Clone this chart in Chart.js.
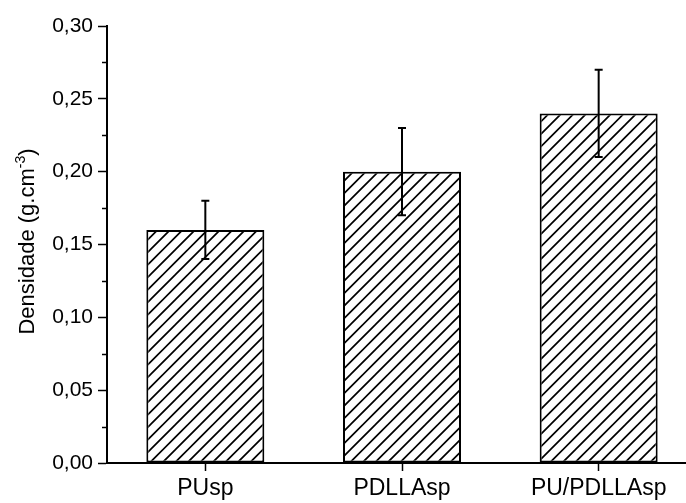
<!DOCTYPE html>
<html>
<head>
<meta charset="utf-8">
<script src="https://cdn.jsdelivr.net/npm/chart.js@4"></script>
<style>
  html, body { margin: 0; padding: 0; background: #fff; }
  #wrap { width: 686px; height: 503px; overflow: hidden; position: relative; }
  #wrap canvas { display: block; }
</style>
</head>
<body>
<div id="wrap"><canvas id="c" width="700" height="503"></canvas></div>
<script>
// Sample densities (g.cm^-3) with standard deviations
const categories = ['PUsp', 'PDLLAsp', 'PU/PDLLAsp'];
const densities = [0.16, 0.20, 0.24];
const deviations = [0.02, 0.03, 0.03];
const yMin = 0;
const yMax = 0.30;
const yStep = 0.05;

const FONT = '"Liberation Sans", Arial, sans-serif';

// Diagonal hatch fill for the bars
function makeHatch() {
  const s = 25;
  const c = document.createElement('canvas');
  c.width = s; c.height = s;
  const g = c.getContext('2d');
  g.fillStyle = '#fff';
  g.fillRect(0, 0, s, s);
  g.strokeStyle = '#000';
  g.lineWidth = 1.7;
  g.lineCap = 'square';
  for (let k = -1; k <= 5; k++) {
    const cc = k * 12.5;
    g.beginPath();
    g.moveTo(cc - s, s);
    g.lineTo(cc, 0);
    g.stroke();
  }
  return document.getElementById('c').getContext('2d').createPattern(c, 'repeat');
}

// Error bars with caps, centred on each bar
const errorBars = {
  id: 'errorBars',
  afterDatasetsDraw(chart) {
    const ctx = chart.ctx;
    const y = chart.scales.y;
    const meta = chart.getDatasetMeta(0);
    ctx.save();
    ctx.strokeStyle = '#000';
    ctx.lineWidth = 2;
    meta.data.forEach((bar, i) => {
      const v = densities[i], e = deviations[i];
      const top = y.getPixelForValue(v + e);
      const bot = y.getPixelForValue(v - e);
      const x = bar.x;
      ctx.beginPath();
      ctx.moveTo(x, top); ctx.lineTo(x, bot);
      ctx.moveTo(x - 4, top); ctx.lineTo(x + 4, top);
      ctx.moveTo(x - 4, bot); ctx.lineTo(x + 4, bot);
      ctx.stroke();
    });
    ctx.restore();
  }
};

// Minor ticks halfway between the major ones on the y axis
const minorTicks = {
  id: 'minorTicks',
  afterDraw(chart) {
    const ctx = chart.ctx;
    const y = chart.scales.y;
    const left = chart.chartArea.left;
    ctx.save();
    ctx.strokeStyle = '#000';
    ctx.lineWidth = 1.5;
    for (let v = yMin + yStep / 2; v < yMax; v += yStep) {
      const py = Math.round(y.getPixelForValue(v)) + 0.5;
      ctx.beginPath();
      ctx.moveTo(left - 5, py);
      ctx.lineTo(left, py);
      ctx.stroke();
    }
    ctx.restore();
  }
};

// Rotated y-axis title with a superscript exponent
const yTitle = {
  id: 'yTitle',
  afterDraw(chart) {
    const ctx = chart.ctx;
    const area = chart.chartArea;
    const parts = [
      { t: 'Densidade (g.cm', size: 22, dy: 0 },
      { t: '-3', size: 14, dy: -9 },
      { t: ')', size: 22, dy: 0 }
    ];
    ctx.save();
    ctx.fillStyle = '#000';
    ctx.textBaseline = 'alphabetic';
    let total = 0;
    parts.forEach(p => { ctx.font = p.size + 'px ' + FONT; p.w = ctx.measureText(p.t).width; total += p.w; });
    ctx.translate(34, (area.top + area.bottom) / 2 - 3);
    ctx.rotate(-Math.PI / 2);
    let x = -total / 2;
    parts.forEach(p => {
      ctx.font = p.size + 'px ' + FONT;
      ctx.fillText(p.t, x, p.dy);
      x += p.w;
    });
    ctx.restore();
  }
};

new Chart(document.getElementById('c'), {
  type: 'bar',
  data: {
    labels: categories,
    datasets: [{
      data: densities,
      backgroundColor: makeHatch(),
      borderColor: '#000',
      borderWidth: 2,
      borderSkipped: false,
      barPercentage: 0.6,
      categoryPercentage: 1.0
    }]
  },
  options: {
    responsive: false,
    animation: false,
    events: [],
    layout: { padding: { top: 26, right: 3, bottom: 0, left: 0 } },
    plugins: { legend: { display: false }, tooltip: { enabled: false }, title: { display: false } },
    scales: {
      x: {
        grid: { display: true, drawOnChartArea: false, offset: false, drawTicks: true, tickLength: 8, tickColor: '#000', tickWidth: 1.5 },
        border: { display: true, color: '#000', width: 2 },
        ticks: { color: '#000', font: { family: FONT, size: 23 }, padding: 4, maxRotation: 0 },
        afterFit(s) { s.height = 40; }
      },
      y: {
        min: yMin,
        max: yMax,
        grid: { display: true, drawOnChartArea: false, drawTicks: true, tickLength: 9, tickColor: '#000', tickWidth: 1.5 },
        border: { display: true, color: '#000', width: 2 },
        ticks: {
          stepSize: yStep,
          color: '#000',
          font: { family: FONT, size: 21 },
          padding: 5,
          callback: v => v.toFixed(2).replace('.', ',')
        },
        afterFit(s) { s.width = 107; }
      }
    }
  },
  plugins: [errorBars, minorTicks, yTitle]
});
</script>
</body>
</html>
